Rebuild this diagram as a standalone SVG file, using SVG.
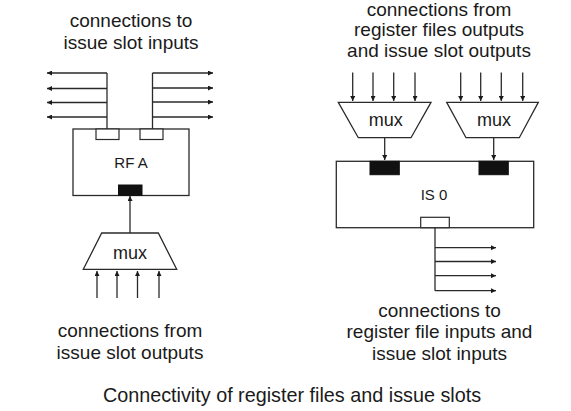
<svg xmlns="http://www.w3.org/2000/svg" width="571" height="411" viewBox="0 0 571 411">
<style>
  .ln { stroke: #2a2a2a; stroke-width: 1.3; fill: none; }
  .ar { stroke: #2a2a2a; stroke-width: 1.3; fill: none; marker-end: url(#ah); }
  .box { fill: #fff; stroke: #2a2a2a; stroke-width: 1.3; }
  .pin { fill: #fff; stroke: #2a2a2a; stroke-width: 1.2; }
  .pblk { fill: #111; stroke: #111; stroke-width: 1; }
  .t { font-family: "Liberation Sans", Arial, sans-serif; font-size: 19px; fill: #1a1a1a; text-anchor: middle; }
  .tc { font-family: "Liberation Sans", Arial, sans-serif; font-size: 19.8px; fill: #1a1a1a; text-anchor: middle; }
  .tm { font-family: "Liberation Sans", Arial, sans-serif; font-size: 18px; fill: #1a1a1a; text-anchor: middle; }
  .tb { font-family: "Liberation Sans", Arial, sans-serif; font-size: 15px; fill: #1a1a1a; text-anchor: middle; }
</style>
<defs>
  <marker id="ah" viewBox="0 0 10 10" refX="10" refY="5" markerWidth="6" markerHeight="5" markerUnits="userSpaceOnUse" orient="auto">
    <path d="M0,0 L10,5 L0,10 z" fill="#1a1a1a"/>
  </marker>
</defs>
<rect width="571" height="411" fill="#fff"/>

<g id="connectors">
  <path class="ln" d="M107,129 V73"/>
  <line class="ar" x1="107" y1="73" x2="47" y2="73"/>
  <line class="ar" x1="107" y1="88.5" x2="47" y2="88.5"/>
  <line class="ar" x1="107" y1="102.5" x2="47" y2="102.5"/>
  <line class="ar" x1="107" y1="117" x2="47" y2="117"/>
  <path class="ln" d="M152.5,129 V73"/>
  <line class="ar" x1="152.5" y1="73" x2="213" y2="73"/>
  <line class="ar" x1="152.5" y1="88" x2="213" y2="88"/>
  <line class="ar" x1="152.5" y1="102" x2="213" y2="102"/>
  <line class="ar" x1="152.5" y1="117" x2="213" y2="117"/>
  <line class="ar" x1="130" y1="233" x2="130" y2="196"/>
  <line class="ar" x1="97" y1="298" x2="97" y2="271"/>
  <line class="ar" x1="117" y1="298" x2="117" y2="271"/>
  <line class="ar" x1="137.5" y1="298" x2="137.5" y2="271"/>
  <line class="ar" x1="159" y1="298" x2="159" y2="271"/>
  <line class="ar" x1="352.7" y1="72.5" x2="352.7" y2="101"/>
  <line class="ar" x1="373" y1="72.5" x2="373" y2="101"/>
  <line class="ar" x1="393.7" y1="72.5" x2="393.7" y2="101"/>
  <line class="ar" x1="415" y1="72.5" x2="415" y2="101"/>
  <line class="ar" x1="460.7" y1="72.5" x2="460.7" y2="101"/>
  <line class="ar" x1="480.7" y1="72.5" x2="480.7" y2="101"/>
  <line class="ar" x1="501.3" y1="72.5" x2="501.3" y2="101"/>
  <line class="ar" x1="522.7" y1="72.5" x2="522.7" y2="101"/>
  <line class="ar" x1="384.7" y1="138" x2="384.7" y2="160"/>
  <line class="ar" x1="493.7" y1="138" x2="493.7" y2="160"/>
  <path class="ln" d="M435,228 V290.7"/>
  <line class="ar" x1="435" y1="247.7" x2="496" y2="247.7"/>
  <line class="ar" x1="435" y1="261.5" x2="496" y2="261.5"/>
  <line class="ar" x1="435" y1="275.7" x2="496" y2="275.7"/>
  <line class="ar" x1="435" y1="290.7" x2="496" y2="290.7"/>
</g>

<g id="rfa">
  <rect class="box" x="73" y="129" width="116" height="66.5"/>
  <rect class="pin" x="96" y="129" width="23" height="10.5"/>
  <rect class="pin" x="140" y="129" width="23" height="10.5"/>
  <rect class="pblk" x="118.5" y="185" width="23.5" height="10.5"/>
  <text class="tb" x="131" y="168">RF A</text>
</g>

<g id="mux-rf">
  <polygon class="box" points="101.7,233 158.3,233 176.7,269.3 83.3,269.3"/>
  <text class="tm" x="130" y="259">mux</text>
</g>

<g id="mux1">
  <polygon class="box" points="338.3,102.3 431,102.3 411,137.7 358.3,137.7"/>
  <text class="tm" x="385.7" y="126">mux</text>
</g>

<g id="mux2">
  <polygon class="box" points="446.7,102.3 538.3,102.3 519.3,137.7 466,137.7"/>
  <text class="tm" x="494" y="126">mux</text>
</g>

<g id="is0">
  <rect class="box" x="336.3" y="161.3" width="197.4" height="66.4"/>
  <rect class="pblk" x="370" y="161.3" width="29.3" height="13.4"/>
  <rect class="pblk" x="479" y="161.3" width="29.3" height="13.4"/>
  <rect class="pin" x="420.7" y="217.3" width="28.6" height="10.4"/>
  <text class="tb" x="434" y="200">IS 0</text>
</g>

<g id="labels">
  <text class="t" x="131" y="26.5">connections to</text>
  <text class="t" x="131" y="48.5">issue slot inputs</text>
  <text class="t" x="439" y="16">connections from</text>
  <text class="t" x="439" y="36.4">register files outputs</text>
  <text class="t" x="439" y="56.8">and issue slot outputs</text>
  <text class="t" x="130" y="337">connections from</text>
  <text class="t" x="130" y="359.3">issue slot outputs</text>
  <text class="t" x="439.5" y="316.7">connections to</text>
  <text class="t" x="439.5" y="338.3">register file inputs and</text>
  <text class="t" x="439.5" y="360">issue slot inputs</text>
  <text class="tc" x="292" y="401.7">Connectivity of register files and issue slots</text>
</g>
</svg>
